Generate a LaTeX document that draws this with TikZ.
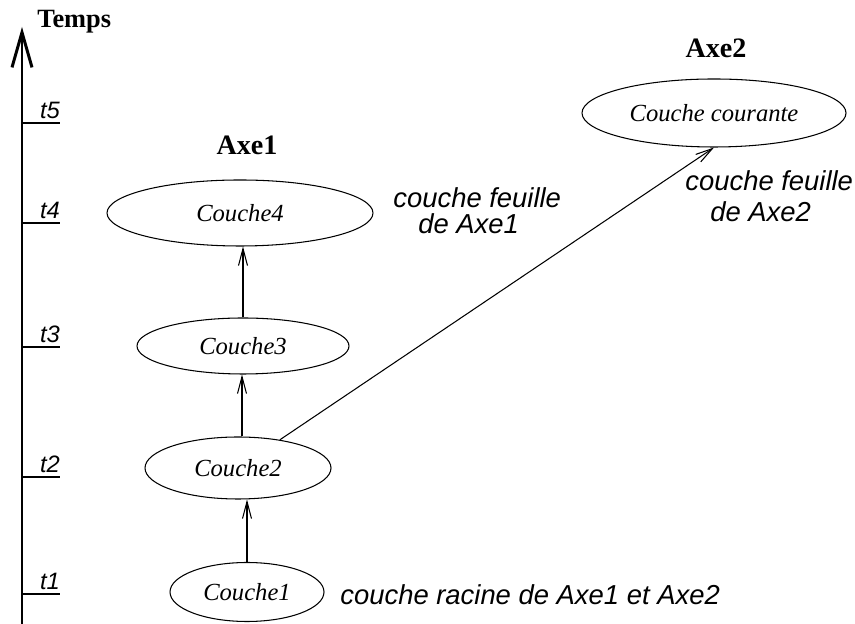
\documentclass[tikz,border=0pt]{standalone}
\usepackage{fontspec}
\setmainfont{Liberation Serif}
\setsansfont{Liberation Sans}
\usetikzlibrary{arrows.meta, shapes.geometric}
\tikzset{
  couche/.style={ellipse, draw, line width=0.6pt, inner sep=0pt,
                 font=\itshape\fontsize{14}{16}\selectfont},
  axeT/.style={font=\bfseries\fontsize{16}{18}\selectfont},
  note/.style={font=\sffamily\itshape\fontsize{15.6}{14.8}\selectfont,
               align=left, inner sep=0pt},
  instant/.style={font=\sffamily\itshape\fontsize{13.5}{15}\selectfont,
                  inner sep=2pt},
  fleche/.style={-{Straight Barb[length=3.4mm, width=1.8mm]}, line width=0.6pt},
}

\begin{document}
\begin{tikzpicture}
  \useasboundingbox (0,0) rectangle (17.1,12.48);
  % axe du temps
  \coordinate (bas) at (0.44,0);
  \coordinate (haut) at (0.44,11.94);
  \draw[-{Straight Barb[length=7mm, width=4mm]}, line width=1.7pt] (bas) -- (haut);
  \node[anchor=base west, inner sep=0pt, font=\bfseries\fontsize{15}{17}\selectfont] (temps) at (0.74,11.92) {Temps};
  \foreach \t/\y in {1/0.60, 2/2.94, 3/5.54, 4/8.02, 5/10.02} {
    \draw[line width=0.6pt] (0.44,\y) -- (1.2,\y);
    \node[instant, anchor=south] (t\t) at (1.0,\y) {t\t};
  }

  % couches
  \node[couche, minimum width=3.08cm, minimum height=1.18cm] (c1) at (4.94,0.64) {Couche1};
  \node[couche, minimum width=3.72cm, minimum height=1.24cm] (c2) at (4.76,3.12) {Couche2};
  \node[couche, minimum width=4.24cm, minimum height=1.12cm] (c3) at (4.86,5.56) {Couche3};
  \node[couche, minimum width=5.32cm, minimum height=1.32cm] (c4) at (4.80,8.22) {Couche4};
  \node[couche, minimum width=5.28cm, minimum height=1.36cm] (cc) at (14.28,10.22) {Couche courante};

  \node[axeT, anchor=base] (axe1) at (4.94,9.38) {Axe1};
  \node[axeT, anchor=base] (axe2) at (14.32,11.32) {Axe2};

  % liens entre couches
  \draw[fleche] (c1.north) -- (c1.north |- c2.south);
  \draw[fleche] (c2.north) ++(0.08,0) coordinate (d2) -- (d2 |- c3.south);
  \draw[fleche] (c3.north) -- (c3.north |- c4.south);
  \draw[fleche] (c2) -- (cc.south);

  % commentaires
  \node[note, anchor=base west] (f1) at (7.86,7.80) {couche feuille\\\hspace{0.5cm}de Axe1};
  \node[note, anchor=base west] (f2) at (13.70,8.04) {couche feuille\\[3pt]\hspace{0.5cm}de Axe2};
  \node[note, anchor=base west] (rac) at (6.80,0.38) {couche racine de Axe1 et Axe2};
\end{tikzpicture}
\end{document}
